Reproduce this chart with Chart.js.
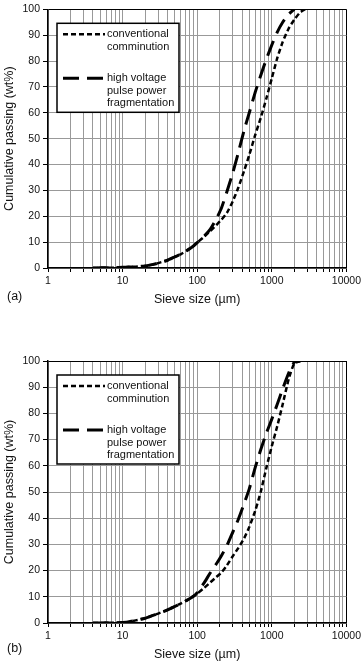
<!DOCTYPE html>
<html>
<head>
<meta charset="utf-8">
<script src="https://cdn.jsdelivr.net/npm/chart.js@4.4.1/dist/chart.umd.min.js"></script>
<style>
  html, body { margin: 0; padding: 0; background: #fff; }
  body { width: 364px; height: 665px; position: relative; overflow: hidden; font-family: "Liberation Sans", Arial, sans-serif; }
  canvas { position: absolute; left: 0; }
  #chart-a { top: 0; }
  #chart-b { top: 320px; }
  .panel-tag { position: absolute; left: 7px; font-size: 12.5px; line-height: 15px; color: #111; }
</style>
</head>
<body>
<canvas id="chart-a" width="364" height="320"></canvas>
<canvas id="chart-b" width="364" height="345"></canvas>
<div class="panel-tag" style="top:289px">(a)</div>
<div class="panel-tag" style="top:641px">(b)</div>
<script>
// Sieve sizes (µm) shared by all four curves
const SIZES = [4, 5, 6, 8, 10, 12, 15, 20, 25, 30, 40, 50, 60, 75, 90, 100, 125, 150, 180, 212,
  250, 300, 355, 425, 500, 600, 710, 850, 1000, 1180, 1400, 1700, 2000, 2400, 2800];

// (a) cumulative passing, wt%
const CONV_A = [0, 0.05, 0.1, 0.15, 0.25, 0.35, 0.5, 0.8, 1.3, 1.9, 3.0, 4.3, 5.3, 7.0, 8.6, 9.8,
  12.2, 14.3, 16.6, 18.7, 21.3, 25.8, 31.0, 37.5, 43.8, 51.5, 58.0, 65.8, 73.3, 81.0, 87.4, 92.8, 96.0, 98.8, 100];
const HV_A = [0, 0.05, 0.1, 0.15, 0.25, 0.35, 0.5, 0.8, 1.3, 1.9, 3.0, 4.3, 5.3, 7.0, 8.6, 9.8,
  12.4, 15.0, 18.9, 23.3, 29.5, 36.8, 44.5, 53.2, 60.1, 68.0, 74.4, 80.9, 86.2, 91.1, 95.0, 98.2, 100, null, null];

// (b) cumulative passing, wt%
const CONV_B = [0, 0.02, 0.05, 0.1, 0.2, 0.4, 1.0, 1.8, 2.8, 3.6, 5.0, 6.3, 7.4, 8.9, 10.3, 11.2,
  13.5, 15.5, 17.5, 19.3, 22.0, 25.5, 28.6, 32.3, 36.7, 42.9, 50.0, 59.5, 67.5, 75.0, 83.5, 93.5, 99.0, 100, null];
const HV_B = [0, 0.02, 0.05, 0.1, 0.2, 0.4, 1.0, 1.8, 2.8, 3.6, 5.0, 6.3, 7.4, 8.9, 10.3, 11.6,
  15.5, 19.2, 22.5, 25.8, 29.5, 34.7, 39.5, 45.5, 51.3, 59.4, 66.1, 72.6, 77.8, 83.4, 89.4, 95.7, 99.5, 100, null];

const LABEL_CONV = 'conventional\ncomminution';
const LABEL_HV = 'high voltage\npulse power\nfragmentation';

// axis ticks
const X_MAJOR = [1, 10, 100, 1000, 10000];
const X_TICKS = [];
X_MAJOR.forEach((d, i) => {
  if (i === X_MAJOR.length - 1) { X_TICKS.push(d); return; }
  for (let m = 1; m <= 9; m++) X_TICKS.push(d * m);
});

const FONT = '"Liberation Sans", Arial, sans-serif';
Chart.defaults.font.family = FONT;
Chart.defaults.color = '#111';

// framed legend drawn inside the plot area, top-left
const boxLegend = {
  id: 'boxLegend',
  afterDatasetsDraw(chart, args, opts) {
    const { ctx, chartArea } = chart;
    const x = chartArea.left + opts.dx;
    const y = chartArea.top + opts.dy;
    ctx.save();
    ctx.fillStyle = '#fff';
    ctx.fillRect(x, y, opts.width, opts.height);
    ctx.lineWidth = 1.5;
    ctx.strokeStyle = '#000';
    ctx.strokeRect(x, y, opts.width, opts.height);
    ctx.font = '11px ' + FONT;
    ctx.textBaseline = 'middle';
    ctx.textAlign = 'left';
    let rowY = y + 11;
    chart.data.datasets.forEach(ds => {
      ctx.save();
      ctx.strokeStyle = ds.borderColor;
      ctx.lineWidth = ds.borderWidth;
      ctx.setLineDash(ds.borderDash || []);
      ctx.beginPath();
      ctx.moveTo(x + 6, rowY);
      ctx.lineTo(x + 48, rowY);
      ctx.stroke();
      ctx.restore();
      ctx.fillStyle = '#111';
      ds.label.split('\n').forEach((t, i) => ctx.fillText(t, x + 50, rowY + i * 12.5));
      rowY += 44;
    });
    ctx.restore();
  }
};

function toPoints(ys) {
  return SIZES.map((s, i) => ({ x: s, y: ys[i] }));
}

function makeDatasets(conv, hv) {
  return [
    {
      label: LABEL_CONV,
      data: toPoints(conv),
      borderColor: '#000',
      borderWidth: 2.5,
      borderDash: [5, 3],
      pointRadius: 0,
      tension: 0.2,
      spanGaps: false
    },
    {
      label: LABEL_HV,
      data: toPoints(hv),
      borderColor: '#000',
      borderWidth: 3,
      borderDash: [16, 8],
      pointRadius: 0,
      tension: 0.2,
      spanGaps: false
    }
  ];
}

function makeOptions(padTop, padBottom) {
  return {
    responsive: false,
    animation: false,
    devicePixelRatio: 1,
    layout: { padding: { top: padTop, bottom: padBottom, left: 0, right: 16 } },
    plugins: {
      legend: { display: false },
      tooltip: { enabled: false },
      boxLegend: { dx: 9, dy: 14, width: 122, height: 89 }
    },
    scales: {
      x: {
        type: 'logarithmic',
        min: 1,
        max: 10000,
        afterBuildTicks: s => { s.ticks = X_TICKS.map(v => ({ value: v })); },
        afterFit: s => { s.height = 39; },
        grid: {
          color: c => (c.tick && c.tick.value === 10000) ? '#000' : '#999',
          lineWidth: 1,
          tickLength: 4,
          tickColor: '#000'
        },
        border: { color: '#000', width: 1.5 },
        ticks: {
          autoSkip: false,
          maxRotation: 0,
          padding: 3,
          font: { size: 10.5 },
          callback: v => X_MAJOR.includes(v) ? String(v) : ''
        },
        title: { display: true, text: 'Sieve size (µm)', font: { size: 12.5 }, padding: { top: 0, bottom: 0 } }
      },
      y: {
        min: 0,
        max: 100,
        afterFit: s => { s.width = 48; },
        grid: {
          color: c => (c.tick && c.tick.value === 100) ? '#000' : '#999',
          lineWidth: 1,
          tickLength: 5,
          tickColor: '#000'
        },
        border: { color: '#000', width: 1.5 },
        ticks: { stepSize: 10, padding: 3, font: { size: 10.5 } },
        title: { display: true, text: 'Cumulative passing (wt%)', font: { size: 12.5 }, padding: { top: 2, bottom: 0 } }
      }
    }
  };
}

new Chart(document.getElementById('chart-a'), {
  type: 'line',
  data: { datasets: makeDatasets(CONV_A, HV_A) },
  options: makeOptions(7, 13),
  plugins: [boxLegend]
});

new Chart(document.getElementById('chart-b'), {
  type: 'line',
  data: { datasets: makeDatasets(CONV_B, HV_B) },
  options: makeOptions(41, 3),
  plugins: [boxLegend]
});
</script>
</body>
</html>
